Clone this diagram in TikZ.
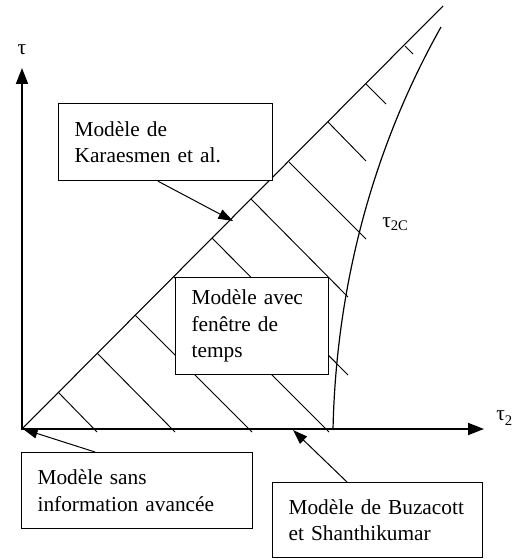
\documentclass[tikz,border=0pt]{standalone}
\usepackage{fontspec}
\setmainfont{Liberation Serif}
\usetikzlibrary{arrows.meta,calc}
\begin{document}
\begin{tikzpicture}[x=0.75pt,y=-0.75pt,
  box/.style={draw,fill=white,line width=0.9pt,inner xsep=12pt,inner ysep=0pt,
    align=left,anchor=north west,font=\fontsize{16}{20}\selectfont},
  axis/.style={line width=1.4pt,-{Triangle[length=12pt,width=9pt]}},
  hatch/.style={line width=0.7pt},
  ptr/.style={line width=0.75pt,-{Triangle[length=11pt,width=7.5pt]}},
  lbl/.style={inner sep=0pt,font=\fontsize{16}{18}\selectfont}]
\useasboundingbox (0,0) rectangle (519,559);
% coordinates
\coordinate (O) at (22,429);
\coordinate (ytip) at (22,68);
\coordinate (xtip) at (484,429);
\coordinate (dend) at (443,6);
% hatches
\draw[hatch] (58,392) -- (97,432);
\draw[hatch] (97,353) -- (175,432);
\draw[hatch] (135,315) -- (252,432);
\draw[hatch] (174,277) -- (329,432);
\draw[hatch] (212,238) -- (348,375);
\draw[hatch] (251,199) -- (348,297);
\draw[hatch] (289,162) -- (366,239);
\draw[hatch] (328,122) -- (366,161);
\draw[hatch] (366,84) -- (386,104);
\draw[hatch] (405,46) -- (413,54);
% diagonal
\draw[line width=0.8pt] (O) -- (dend);
% curve tau_2c
\draw[line width=0.9pt] (333,430) .. controls (335,330) and (355,180) .. (441,27);
% axes
\draw[axis] (O) -- (ytip);
\draw[axis] (21,429) -- (xtip);
% labels
\node[lbl] (tau) at (22,50) {τ};
\node[lbl,anchor=west] (tau2) at (496,418) {τ\raisebox{-0.45ex}{\fontsize{11}{11}\selectfont 2}};
\node[lbl,anchor=west] (tau2c) at (382,224) {τ\raisebox{-0.3ex}{\fontsize{11}{11}\selectfont 2C}};
% boxes
\node[box,text width=136.5pt,minimum height=57.75pt] (kar) at (58,103) {Modèle de\\Karaesmen et al.};
\node[box,text width=90.75pt,minimum height=72.75pt] (fen) at (175,277) {Modèle avec\\fenêtre de\\temps};
\node[box,text width=149.25pt,minimum height=57pt] (sans) at (21,452) {Modèle sans\\information avancée};
\node[box,text width=133.5pt,minimum height=56.25pt] (buz) at (272,482) {Modèle de Buzacott\\et Shanthikumar};
% pointers
\coordinate (ktip) at (233,221);
\coordinate (stip) at (23,429);
\coordinate (btip) at (293,430);
\draw[ptr] ($(kar.south west)+(100,0)$) -- (ktip);
\draw[ptr] ($(sans.north west)+(74,0)$) -- (stip);
\draw[ptr] ($(buz.north west)+(75,0)$) -- (btip);
\end{tikzpicture}
\end{document}
